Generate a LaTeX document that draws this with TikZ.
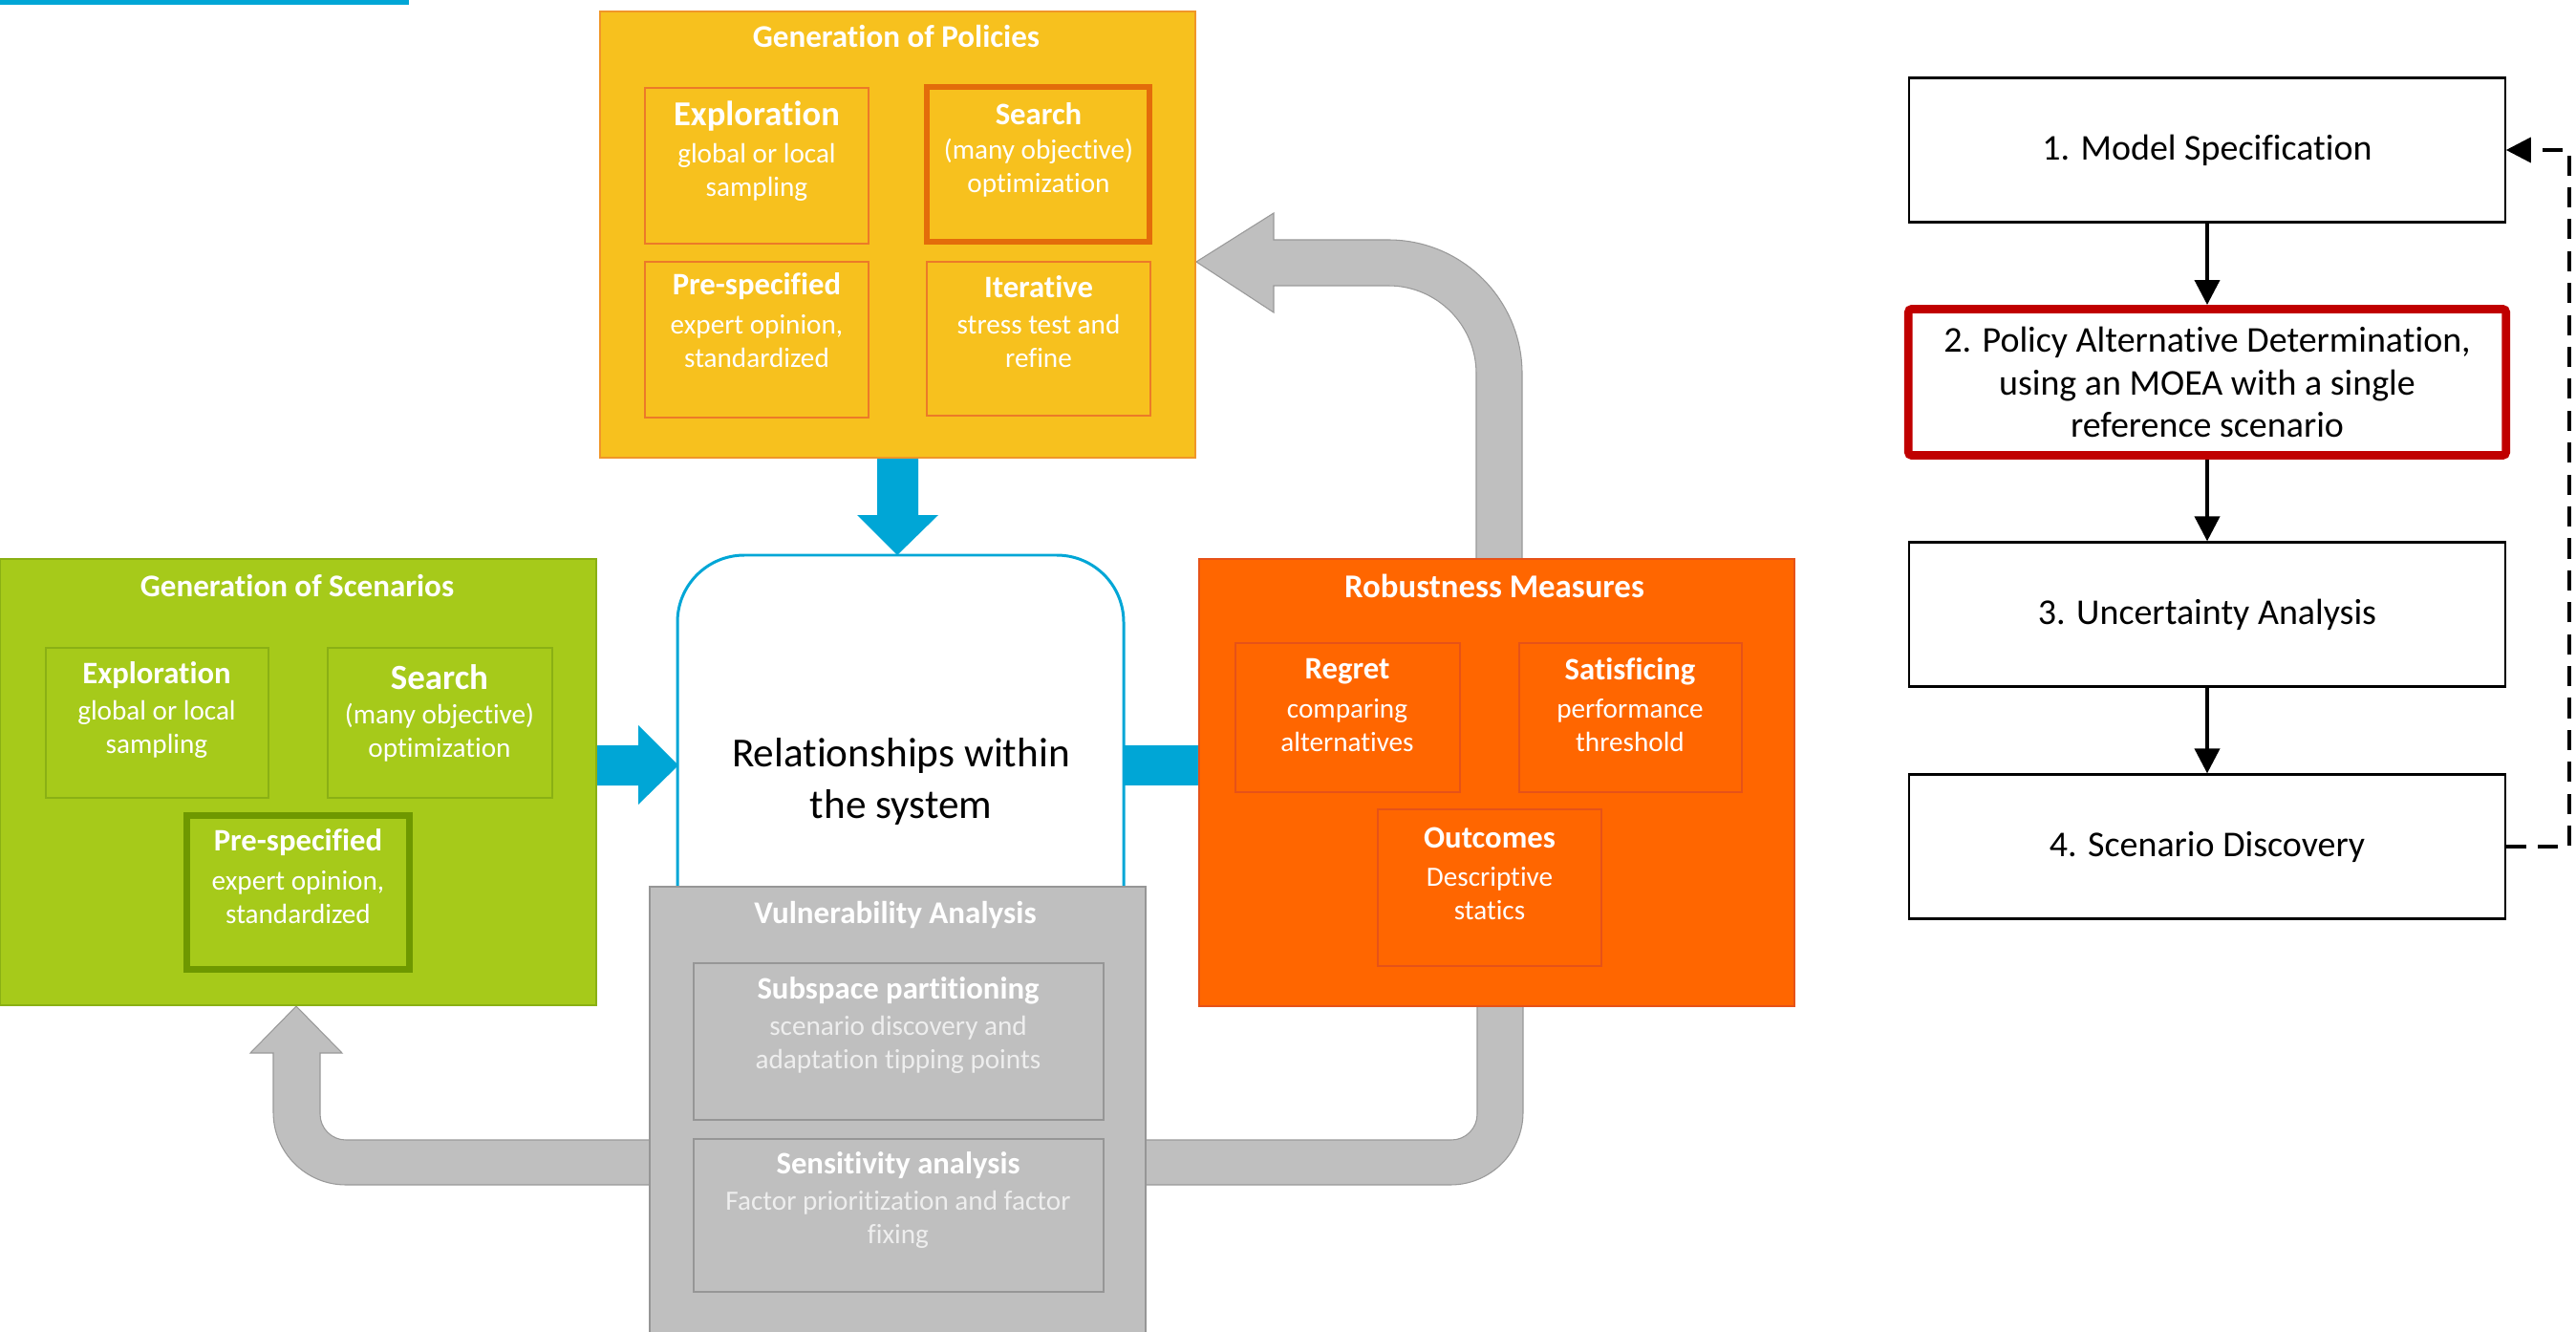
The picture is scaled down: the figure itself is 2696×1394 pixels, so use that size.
\documentclass[tikz,border=0pt]{standalone}
\usepackage{fontspec}
\setmainfont[Ligatures=NoCommon]{Carlito}
\usetikzlibrary{calc,arrows.meta}

\definecolor{relblue}{RGB}{0,166,214}
\definecolor{polfill}{RGB}{247,193,30}
\definecolor{polline}{RGB}{240,150,40}
\definecolor{polsubline}{RGB}{236,122,40}
\definecolor{polthick}{RGB}{227,108,10}
\definecolor{scenfill}{RGB}{166,202,26}
\definecolor{scenline}{RGB}{138,176,20}
\definecolor{scenthick}{RGB}{110,152,0}
\definecolor{robfill}{RGB}{255,102,0}
\definecolor{robline}{RGB}{230,82,24}
\definecolor{vulfill}{RGB}{191,191,191}
\definecolor{vulline}{RGB}{150,150,150}
\definecolor{vultext}{RGB}{238,238,238}
\definecolor{redline}{RGB}{192,0,0}

\tikzset{
	boxtitle/.style={text=white,font=\bfseries\fontsize{9.4}{11}\selectfont},
	subtitle/.style={text=white,font=\bfseries\fontsize{9.3}{11}\selectfont},
	subtext/.style={text=white,font=\fontsize{8.3}{10}\selectfont,align=center},
	polsub/.style={draw=polsubline,line width=0.6pt},
	scensub/.style={draw=scenline,line width=0.6pt},
	robsub/.style={draw=robline,line width=0.6pt},
	vulsub/.style={draw=vulline,line width=0.6pt},
	grayarrow/.style={fill=vulfill,draw=vulfill!80!black,line width=0.3pt},
	stagebox/.style={draw,line width=0.6pt,fill=white,minimum width=6.23cm,minimum height=1.51cm,align=center,font=\fontsize{10.8}{12.6}\selectfont},
	flowarrow/.style={line width=1.1pt,-{Triangle[width=7.4pt,length=7.4pt]}}
}

\begin{document}
\begin{tikzpicture}[x=0.01cm,y=-0.01cm]
	%%%%% START %%%%%
	\useasboundingbox (0,0) rectangle (2696,1394);
	
	\fill[relblue] (0,0) rectangle (428,5);
	
	% gray feedback arrows
	\draw[grayarrow] (1593,585) -- (1593,391) arc (0:-90:140) -- (1333,251) -- (1333,223) -- (1252,274) -- (1333,327) -- (1333,299) -- (1453,299) arc (-90:0:92) -- (1545,585) -- cycle;
	\draw[grayarrow] (1594,1053) -- (1594,1164) arc (0:90:76) -- (362,1240) arc (90:180:76) -- (286,1102) -- (262,1102) -- (310,1053) -- (358,1102) -- (335,1102) -- (335,1166) arc (180:90:27) -- (1519,1193) arc (90:0:27) -- (1546,1053) -- cycle;
	
	% blue arrows
	\fill[relblue] (624,780) -- (668,780) -- (668,759) -- (710,801) -- (668,842) -- (668,822) -- (624,822) -- cycle;
	\fill[relblue] (918,479) -- (961,479) -- (961,539) -- (982,539) -- (939,581) -- (897,539) -- (918,539) -- cycle;
	\fill[relblue] (1176,780) rectangle (1256,822);
	
	\draw[draw=relblue,fill=white,line width=0.85pt,rounded corners=0.7cm] (709,581) rectangle (1176,1000);
	\node[font=\fontsize{12.3}{15.6}\selectfont,align=center] (rel) at (943,818) {Relationships within\\the system};
	
	% policies
	\draw[fill=polfill,draw=polline,line width=0.4pt] (628,12) rectangle (1251,479);
	\node[boxtitle] (poltitle) at (938,38) {Generation of Policies};
	\draw[polsub] (675,92) rectangle (909,255);
	\node[subtitle,font=\bfseries\fontsize{10.4}{12}\selectfont] (polexphd) at (792,122) {Exploration};
	\node[subtext] (polexptx) at (792,180) {global or local\\sampling};
	\draw[polsub,draw=polthick,line width=1.7pt] (970,91) rectangle (1203,253);
	\node[subtitle] (polsrchd) at (1087,119) {Search};
	\node[subtext] (polsrctx) at (1087,176) {(many objective)\\optimization};
	\draw[polsub] (675,274) rectangle (909,437);
	\node[subtitle] (polprehd) at (792,300) {Pre-specified};
	\node[subtext] (polpretx) at (792,357) {expert opinion,\\standardized};
	\draw[polsub] (970,274) rectangle (1204,435);
	\node[subtitle] (politehd) at (1087,300) {Iterative};
	\node[subtext] (politetx) at (1087,357) {stress test and\\refine};
	
	% scenarios
	\draw[fill=scenfill,draw=scenline,line width=0.4pt] (0,585) rectangle (624,1052);
	\node[boxtitle] (scentitle) at (311,613) {Generation of Scenarios};
	\draw[scensub] (48,678) rectangle (281,835);
	\node[subtitle] (scenexphd) at (164,707) {Exploration};
	\node[subtext] (scenexptx) at (164,763) {global or local\\sampling};
	\draw[scensub] (343,678) rectangle (578,835);
	\node[subtitle,font=\bfseries\fontsize{10.5}{12}\selectfont] (scensrchd) at (460,709) {Search};
	\node[subtext] (scensrctx) at (460,767) {(many objective)\\optimization};
	\draw[scensub,draw=scenthick,line width=2pt] (195.5,853.5) rectangle (428.5,1014.5);
	\node[subtitle] (scenprehd) at (312,882) {Pre-specified};
	\node[subtext] (scenpretx) at (312,939) {expert opinion,\\standardized};
	
	% robustness
	\draw[fill=robfill,draw=robline,line width=0.4pt] (1255,585) rectangle (1878,1053);
	\node[boxtitle,font=\bfseries\fontsize{9.9}{11}\selectfont] (robtitle) at (1564,613) {Robustness Measures};
	\draw[robsub] (1293,673) rectangle (1528,829);
	\node[subtitle] (robreghd) at (1410,703) {Regret};
	\node[subtext] (robregtx) at (1410,759) {comparing\\alternatives};
	\draw[robsub] (1590,673) rectangle (1823,829);
	\node[subtitle] (robsathd) at (1706,703) {Satisficing};
	\node[subtext] (robsattx) at (1706,759) {performance\\threshold};
	\draw[robsub] (1442,847) rectangle (1676,1011);
	\node[subtitle] (robouthd) at (1559,877) {Outcomes};
	\node[subtext] (robouttx) at (1559,935) {Descriptive\\statics};
	
	% vulnerability
	\draw[fill=vulfill,draw=vulline,line width=0.6pt] (680,928) rectangle (1199,1400);
	\node[boxtitle] (vultitle) at (937,957) {Vulnerability Analysis};
	\draw[vulsub] (726,1008) rectangle (1155,1172);
	\node[subtitle] (vulsubhd) at (940,1037) {Subspace partitioning};
	\node[subtext,text=vultext] (vulsubtx) at (940,1093) {scenario discovery and\\adaptation tipping points};
	\draw[vulsub] (726,1192) rectangle (1155,1352);
	\node[subtitle] (vulsenhd) at (940,1220) {Sensitivity analysis};
	\node[subtext,text=vultext] (vulsentx) at (940,1276) {Factor prioritization and factor\\fixing};
	
	% steps
	\node[stagebox] (s1) at (2310,157) {1. Model Specification};
	\node[stagebox,draw=redline,line width=2.5pt,rounded corners=1pt,minimum width=6.25cm,minimum height=1.53cm] (s2) at (2310,400) {2. Policy Alternative Determination,\\using an MOEA with a single\\reference scenario};
	\node[stagebox] (s3) at (2310,643) {3. Uncertainty Analysis};
	\node[stagebox] (s4) at (2310,886) {4. Scenario Discovery};
	\draw[flowarrow] (s1) -- (s2);
	\draw[flowarrow] (s2) -- (s3);
	\draw[flowarrow] (s3) -- (s4);
	\draw[flowarrow,line width=1pt,dash pattern=on 6pt off 3.5pt] (s4.east) -- ++(66,0) |- (s1.east);
	
	%%%%% END %%%%%
\end{tikzpicture}
\end{document}
